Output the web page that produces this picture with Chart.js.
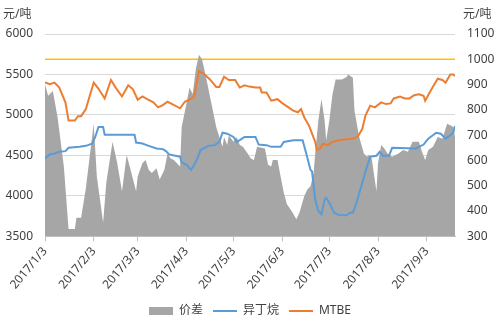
<!DOCTYPE html>
<html>
<head>
<meta charset="utf-8">
<script src="https://cdn.jsdelivr.net/npm/chart.js@4/dist/chart.umd.min.js"></script>
<style>
  html, body { margin: 0; padding: 0; background: #fff; }
  canvas { display: block; }
</style>
</head>
<body>
<canvas id="spreadChart" width="500" height="330"></canvas>
<script>
// x values are days counted from 2017/1/3
const tickDays = [0, 31, 59, 90, 120, 151, 181, 212, 243];
const tickLabels = ['2017/1/3', '2017/2/3', '2017/3/3', '2017/4/3', '2017/5/3', '2017/6/3', '2017/7/3', '2017/8/3', '2017/9/3'];

// 价差 (right axis)
const spreadDays = [0, 2, 5, 8, 12, 15, 19, 20, 23, 26, 31, 33, 37, 39, 43, 46, 49, 52, 55, 58, 59, 62, 64, 66, 68, 71, 73, 76, 78, 80,
  82, 84, 86, 87, 90, 92, 94, 96, 98, 100, 103, 106, 109, 111, 113, 114, 116, 117, 120, 122, 124, 126, 129, 131, 133, 135, 140, 142, 144, 145,
  148, 150, 152, 154, 157, 160, 162, 165, 167, 169, 171, 172, 174, 176, 178, 179, 181, 183, 185, 189, 192, 193, 196, 197, 200, 203, 205, 206, 208, 209,
  211, 212, 214, 216, 218, 221, 225, 228, 231, 234, 238, 240, 242, 244, 247, 250, 253, 256, 258, 260, 261];
const spread = [901, 856, 875, 771, 576, 329, 329, 374, 374, 490, 745, 537, 355, 511, 674, 589, 478, 622, 550, 478, 537, 589, 602, 563, 550, 569, 525, 563, 628, 608,
  602, 589, 576, 732, 823, 888, 862, 960, 1018, 999, 914, 823, 732, 693, 654, 693, 661, 700, 674, 693, 661, 654, 628, 608, 602, 654, 647, 583, 576, 602,
  602, 537, 472, 427, 400, 368, 394, 459, 485, 498, 550, 628, 758, 842, 758, 680, 758, 862, 920, 920, 930, 940, 927, 797, 693, 628, 615, 622, 608, 563,
  478, 589, 661, 647, 628, 615, 628, 641, 634, 674, 674, 634, 602, 641, 654, 693, 686, 745, 739, 732, 693];

// 异丁烷 (left axis)
const isoDays = [0, 3, 6, 9, 13, 15, 22, 26, 30, 32, 34, 37, 38, 43, 57, 58, 62, 66, 71, 75, 77, 79, 83, 86, 87, 90, 93, 95, 97, 99,
  104, 108, 111, 113, 116, 120, 122, 124, 127, 134, 136, 141, 144, 150, 152, 158, 164, 166, 169, 170, 172, 174, 176, 178, 179, 181, 184, 187, 192, 194,
  196, 198, 201, 204, 207, 211, 213, 215, 219, 221, 236, 241, 244, 249, 252, 255, 258, 260, 261];
const isobutane = [4463, 4512, 4524, 4545, 4553, 4594, 4606, 4618, 4646, 4728, 4850, 4850, 4756, 4756, 4756, 4659, 4646, 4618, 4585, 4578, 4553, 4512, 4496, 4484, 4415, 4383, 4322, 4383, 4463, 4566,
  4618, 4627, 4667, 4780, 4768, 4728, 4667, 4688, 4728, 4728, 4634, 4627, 4606, 4606, 4667, 4688, 4688, 4545, 4322, 4301, 3956, 3813, 3773, 3956, 3976, 3915, 3793, 3765, 3761, 3793,
  3793, 3895, 4098, 4301, 4484, 4496, 4545, 4496, 4496, 4594, 4585, 4634, 4707, 4780, 4768, 4707, 4749, 4789, 4862];

// MTBE (left axis)
const mtbeDays = [0, 3, 6, 9, 13, 15, 19, 21, 23, 26, 31, 34, 38, 42, 45, 49, 53, 56, 59, 62, 65, 69, 72, 75, 78, 81, 86, 89, 92, 95,
  98, 101, 105, 109, 111, 114, 117, 121, 124, 127, 130, 134, 137, 138, 141, 144, 148, 151, 155, 158, 161, 163, 165, 168, 172, 173, 175, 177, 180, 183,
  187, 192, 196, 199, 202, 204, 207, 210, 214, 217, 220, 222, 226, 229, 232, 235, 238, 241, 242, 246, 250, 253, 255, 258, 260, 261];
const mtbe = [5400, 5380, 5400, 5340, 5155, 4930, 4930, 4985, 4985, 5073, 5400, 5326, 5204, 5432, 5338, 5228, 5366, 5317, 5188, 5228, 5195, 5155, 5094, 5122, 5163, 5134, 5082, 5163, 5188, 5228,
  5541, 5512, 5439, 5346, 5346, 5472, 5432, 5432, 5338, 5366, 5350, 5338, 5338, 5277, 5277, 5176, 5195, 5146, 5094, 5054, 5033, 5073, 4972, 4871, 4667, 4566, 4585, 4646, 4627, 4667,
  4688, 4700, 4707, 4728, 4829, 4993, 5115, 5094, 5155, 5134, 5143, 5204, 5228, 5204, 5204, 5244, 5256, 5237, 5176, 5317, 5448, 5432, 5399, 5500, 5500, 5480];

// reference line on the right axis
const refDays = [0, 261];
const refLine = [1000, 1000];

const unitText = '元/吨';
const textColor = '#404040';
const fontFamily = '"Noto Sans", "Noto Sans CJK SC", sans-serif';

function toPoints(days, values) {
    return days.map(function(d, i) { return { x: d, y: values[i] }; });
}

// plain numbers, no thousands separator
function plainNumber(value) {
    return String(value);
}

// draws the unit captions above both value axes
const unitCaptions = {
    id: 'unitCaptions',
    afterDraw: function(chart) {
        const ctx = chart.ctx;
        ctx.save();
        ctx.font = '12px ' + fontFamily;
        ctx.fillStyle = textColor;
        ctx.textBaseline = 'middle';
        ctx.textAlign = 'left';
        ctx.fillText(unitText, 3, 15);
        ctx.fillText(unitText, 463, 15);
        ctx.restore();
    }
};

const ctx = document.getElementById('spreadChart').getContext('2d');
new Chart(ctx, {
    type: 'line',
    data: {
        datasets: [{
            label: '价差',
            data: toPoints(spreadDays, spread),
            yAxisID: 'y1',
            fill: 'start',
            backgroundColor: '#a6a6a6',
            borderColor: '#a6a6a6',
            borderWidth: 0,
            pointStyle: 'rect',
            order: 3
        }, {
            label: '异丁烷',
            data: toPoints(isoDays, isobutane),
            yAxisID: 'y',
            borderColor: '#5b9bd5',
            backgroundColor: '#5b9bd5',
            borderWidth: 2,
            pointStyle: 'line',
            order: 2
        }, {
            label: 'MTBE',
            data: toPoints(mtbeDays, mtbe),
            yAxisID: 'y',
            borderColor: '#ed7d31',
            backgroundColor: '#ed7d31',
            borderWidth: 2,
            pointStyle: 'line',
            order: 1
        }, {
            label: 'ref',
            data: toPoints(refDays, refLine),
            yAxisID: 'y1',
            borderColor: '#ffc000',
            borderWidth: 1.5,
            order: 4
        }]
    },
    options: {
        responsive: false,
        animation: false,
        elements: {
            point: { radius: 0 },
            line: { tension: 0 }
        },
        layout: { padding: { top: 34, bottom: 3 } },
        plugins: {
            tooltip: { enabled: false },
            legend: {
                position: 'bottom',
                labels: {
                    usePointStyle: true,
                    pointStyleWidth: 24,
                    boxHeight: 8,
                    padding: 10,
                    color: textColor,
                    font: { size: 12, family: fontFamily },
                    filter: function(item) { return item.datasetIndex < 3; },
                    sort: function(a, b) { return a.datasetIndex - b.datasetIndex; }
                }
            }
        },
        scales: {
            x: {
                type: 'linear',
                min: 0,
                max: 261,
                afterBuildTicks: function(scale) {
                    scale.ticks = tickDays.map(function(d) { return { value: d }; });
                },
                ticks: {
                    autoSkip: false,
                    minRotation: 50,
                    maxRotation: 50,
                    color: textColor,
                    font: { size: 12, family: fontFamily },
                    callback: function(value, index) { return tickLabels[index]; }
                },
                grid: { drawOnChartArea: false, drawTicks: true, tickLength: 5, color: '#bfbfbf' },
                border: { color: '#bfbfbf' }
            },
            y: {
                position: 'left',
                min: 3500,
                max: 6000,
                ticks: { stepSize: 500, padding: 12, color: textColor, font: { size: 12, family: fontFamily }, callback: plainNumber },
                grid: { color: '#d9d9d9', drawTicks: false },
                border: { display: false },
                afterFit: function(scale) { scale.width = 45; }
            },
            y1: {
                position: 'right',
                min: 300,
                max: 1100,
                ticks: { stepSize: 100, padding: 12, color: textColor, font: { size: 12, family: fontFamily }, callback: plainNumber },
                grid: { display: false, drawTicks: false },
                border: { display: false },
                afterFit: function(scale) { scale.width = 45; }
            }
        }
    },
    plugins: [unitCaptions]
});
</script>
</body>
</html>
